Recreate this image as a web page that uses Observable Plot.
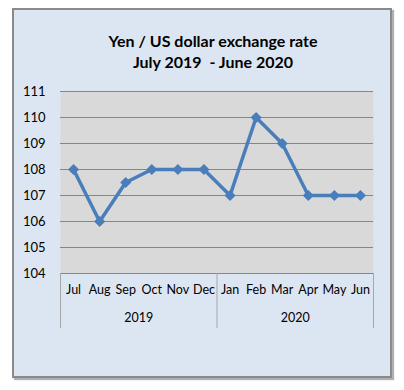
<!DOCTYPE html>
<html><head><meta charset="utf-8">
<script src="https://cdn.jsdelivr.net/npm/d3@7"></script>
<script src="https://cdn.jsdelivr.net/npm/@observablehq/plot@0.6"></script>
<style>
body{margin:0;background:#fff;font-family:Lato,"Open Sans",sans-serif;}
#box{position:absolute;left:12px;top:8px;width:376px;height:366px;border:2px solid #8a8a8a;background:#dce6f2;box-shadow:2px 2px 1px #b0b0b0;}
#title{position:absolute;left:0;top:30px;width:426px;text-align:center;font-weight:bold;font-size:16px;line-height:21px;color:#000;}
#chart{position:absolute;left:0;top:0;}
</style></head><body>
<div id="box"></div>
<div id="title">Yen / US dollar exchange rate<br>July 2019&nbsp; - June 2020</div>
<div id="chart"></div>
<script>
const months = ["Jul","Aug","Sep","Oct","Nov","Dec","Jan","Feb","Mar","Apr","May","Jun"];
const years = ["2019","2020"];
const rates = [108,106,107.5,108,108,108,107,110,109,107,107,107];
const yTicks = [104,105,106,107,108,109,110,111];

const data = months.map((m,i)=>({i, m, v: rates[i]}));
const lineColor = "#4a7ebb";
const chart = Plot.plot({
  width: 404, height: 390,
  marginLeft: 60, marginRight: 31, marginTop: 91, marginBottom: 117,
  style: {background: "transparent", fontFamily: "Lato, 'Open Sans', sans-serif", fontSize: "12px", color: "#000"},
  x: {type: "linear", domain: [-0.5, 11.5], axis: null},
  y: {domain: [104, 111], axis: null},
  marks: [
    Plot.frame({fill: "#d9d9d9", stroke: null}),
    Plot.gridY(yTicks, {stroke: "#868686", strokeOpacity: 1, strokeWidth: 1}),
    Plot.axisY(yTicks, {tickSize: 0, tickPadding: 15, fontSize: 13, label: null}),
    Plot.axisX(d3.range(12), {tickSize: 0, tickPadding: 12, tickFormat: i => months[i], fontSize: 12.5, label: null}),
    Plot.axisX([-0.5, 5.5, 11.5], {tickSize: 55, tickFormat: () => "", stroke: "#a6a6a6", label: null}),
    Plot.axisX([2.5, 8.5], {tickSize: 0, tickPadding: 40, tickFormat: d => years[d < 6 ? 0 : 1], fontSize: 12.5, label: null}),
    Plot.line(data, {x: "i", y: "v", stroke: lineColor, strokeWidth: 3.5}),
    Plot.dot(data, {x: "i", y: "v", symbol: "diamond2", r: 5, fill: lineColor, stroke: null})
  ]
});
document.getElementById("chart").append(chart);
</script>
</body></html>
